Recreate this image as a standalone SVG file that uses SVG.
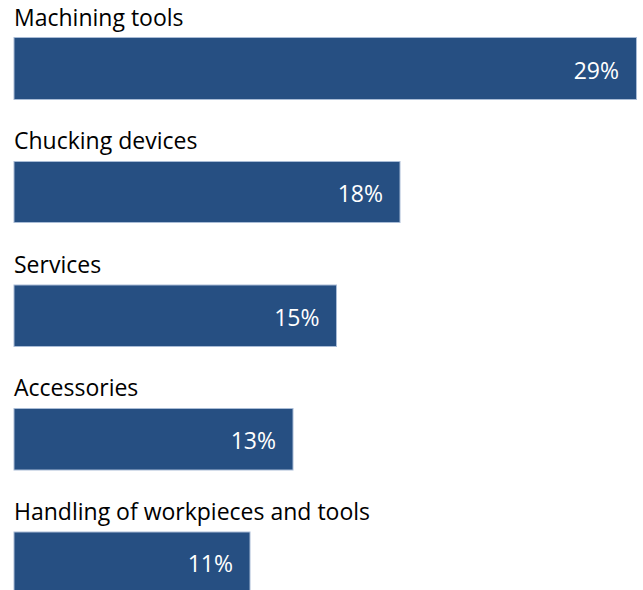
<svg xmlns="http://www.w3.org/2000/svg" width="643" height="590" viewBox="0 0 643 590">
<style>
.lbl{font-family:"Open Sans","Liberation Sans",sans-serif;font-size:23px;fill:#000}
.val{font-family:"Open Sans","Liberation Sans",sans-serif;font-size:23px;fill:#fff;text-anchor:end}
.bar{fill:#264F82;stroke:#A9BCD6;stroke-width:1}
</style>
<rect width="643" height="590" fill="#fff"/>
<g id="machining-tools">
<text class="lbl" x="14" y="26">Machining tools</text>
<rect class="bar" x="14" y="37.5" width="622.5" height="62"/>
<text class="val" x="619" y="79">29%</text>
</g>
<g id="chucking-devices">
<text class="lbl" x="14" y="149">Chucking devices</text>
<rect class="bar" x="14" y="161.5" width="386" height="61"/>
<text class="val" x="383" y="202">18%</text>
</g>
<g id="services">
<text class="lbl" x="14" y="273">Services</text>
<rect class="bar" x="14" y="285" width="322.5" height="61.5"/>
<text class="val" x="319.5" y="325.5">15%</text>
</g>
<g id="accessories">
<text class="lbl" x="14" y="396">Accessories</text>
<rect class="bar" x="14" y="408.5" width="279" height="61.5"/>
<text class="val" x="276" y="449">13%</text>
</g>
<g id="handling">
<text class="lbl" x="14" y="520">Handling of workpieces and tools</text>
<rect class="bar" x="14" y="532" width="236" height="62"/>
<text class="val" x="233" y="572">11%</text>
</g>
</svg>
